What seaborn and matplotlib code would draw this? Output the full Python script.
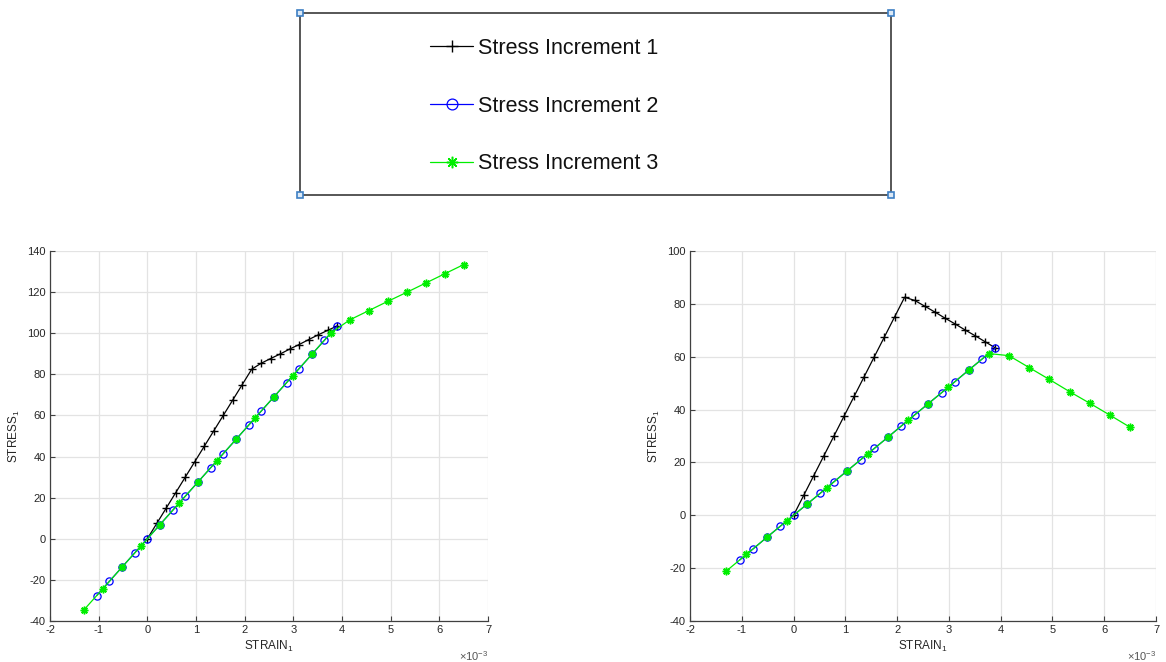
import numpy as np
import pandas as pd
import matplotlib
matplotlib.use('Agg')
import matplotlib.pyplot as plt
from matplotlib.ticker import FuncFormatter
import seaborn as sns

# ============================================================
# DATA (strain values in units of 1e-3)
# ============================================================

labels = ['Stress Increment 1', 'Stress Increment 2', 'Stress Increment 3']

# increment 1 (black, +)
strain_1 = [0.0, 0.195, 0.39, 0.585, 0.78, 0.975, 1.17, 1.365, 1.56, 1.755, 1.95,
            2.145, 2.34, 2.535, 2.73, 2.925, 3.12, 3.315, 3.51, 3.705, 3.9]
stress_1_left = [0.0, 7.5, 15.0, 22.5, 30.0, 37.5, 45.0, 52.5, 60.0, 67.5, 75.0,
                 82.5, 85.4, 87.7, 89.9, 92.3, 94.5, 96.9, 99.2, 101.4, 103.5]
stress_1_right = [0.0, 7.5, 15.0, 22.5, 30.0, 37.5, 45.0, 52.5, 60.0, 67.5, 75.0,
                  82.5, 81.3, 79.1, 76.9, 74.6, 72.4, 70.1, 67.9, 65.6, 63.3]

# increment 2 (blue, o)
strain_2 = [-1.04, -0.78, -0.52, -0.26, 0.0, 0.26, 0.52, 0.78, 1.04, 1.3,
            1.56, 1.82, 2.08, 2.34, 2.6, 2.86, 3.12, 3.38, 3.64, 3.9]
stress_2_left = [-27.6, -20.7, -13.8, -6.9, 0.0, 6.9, 13.8, 20.7, 27.6, 34.5,
                 41.4, 48.3, 55.2, 62.1, 69.0, 75.9, 82.8, 89.7, 96.6, 103.5]
stress_2_right = [-16.9, -12.7, -8.4, -4.2, 0.0, 4.2, 8.4, 12.7, 16.9, 21.1,
                  25.3, 29.5, 33.8, 38.0, 42.2, 46.4, 50.6, 54.9, 59.1, 63.3]

# increment 3 (green, *)
strain_3 = [-1.3, -0.91, -0.52, -0.13, 0.26, 0.65, 1.04, 1.43, 1.82, 2.21, 2.6,
            2.99, 3.38, 3.77, 4.16, 4.55, 4.94, 5.33, 5.72, 6.11, 6.5]
stress_3_left = [-34.5, -24.2, -13.8, -3.5, 6.9, 17.3, 27.6, 38.0, 48.3, 58.7, 69.0,
                 79.4, 89.7, 100.1, 106.5, 111.0, 115.5, 119.9, 124.4, 128.9, 133.4]
stress_3_right = [-21.1, -14.8, -8.4, -2.1, 4.2, 10.5, 16.9, 23.2, 29.5, 35.9, 42.2,
                  48.5, 54.9, 61.2, 60.4, 55.9, 51.4, 46.8, 42.4, 37.9, 33.3]

x_ticks = [-2, -1, 0, 1, 2, 3, 4, 5, 6, 7]
y_ticks_left = [-40, -20, 0, 20, 40, 60, 80, 100, 120, 140]
y_ticks_right = [-40, -20, 0, 20, 40, 60, 80, 100]

# ============================================================
# STYLE
# ============================================================

sns.set_theme(style='ticks')
plt.rcParams['font.family'] = ['Liberation Sans', 'DejaVu Sans']
plt.rcParams['mathtext.fontset'] = 'custom'
plt.rcParams['mathtext.rm'] = 'Liberation Sans'
plt.rcParams['mathtext.default'] = 'regular'
plt.rcParams['axes.unicode_minus'] = False

dark = '#262626'
series_style = [
    dict(color='#000000', marker='+', markersize=6, markeredgecolor='#000000',
         markerfacecolor='#000000', markeredgewidth=1.0),
    dict(color='#0000ff', marker='o', markersize=5.2, markeredgecolor='#0000ff',
         markerfacecolor='none', markeredgewidth=0.9),
    dict(color='#00ee00', marker=(8, 2, 0), markersize=5.5, markeredgecolor='#00ee00',
         markerfacecolor='#00ee00', markeredgewidth=1.1),
]

W, H = 1166, 662
fig = plt.figure(figsize=(W / 100, H / 100), dpi=100)


def px_rect(x0, y0, x1, y1):
    # pixel box (top-left origin) -> figure fraction rect
    return [x0 / W, 1 - y1 / H, (x1 - x0) / W, (y1 - y0) / H]


ax_l = fig.add_axes(px_rect(50, 251, 488, 621))
ax_r = fig.add_axes(px_rect(690, 251, 1156, 621))

panels = [
    (ax_l, [stress_1_left, stress_2_left, stress_3_left], y_ticks_left),
    (ax_r, [stress_1_right, stress_2_right, stress_3_right], y_ticks_right),
]
strains = [strain_1, strain_2, strain_3]

for ax, stresses, yt in panels:
    for k in range(3):
        df = pd.DataFrame({'strain': np.array(strains[k]) * 1e-3,
                           'stress': stresses[k]})
        sns.lineplot(data=df, x='strain', y='stress', ax=ax, sort=False,
                     estimator=None, linewidth=0.9, label=labels[k],
                     **series_style[k])
    if ax.get_legend() is not None:
        ax.get_legend().remove()

    ax.set_xlim(-2e-3, 7e-3)
    ax.set_xticks(np.array(x_ticks) * 1e-3)
    ax.set_ylim(yt[0], yt[-1])
    ax.set_yticks(yt)
    # tick labels in units of 1e-3, exponent written separately like matlab
    ax.xaxis.set_major_formatter(FuncFormatter(lambda v, p: f'{v * 1e3:g}'))
    ax.text(1.0, -0.108, r'$\times10^{-3}$', transform=ax.transAxes,
            ha='right', va='baseline', fontsize=8, color='#555555')

    ax.grid(True, color='#e3e3e3', linewidth=0.9)
    ax.set_axisbelow(True)
    for s in ['top', 'right']:
        ax.spines[s].set_visible(False)
    for s in ['left', 'bottom']:
        ax.spines[s].set_color('#404040')
        ax.spines[s].set_linewidth(0.9)
    ax.tick_params(direction='in', length=3.5, width=0.8, color='#404040',
                   labelsize=8, labelcolor=dark, pad=3)
    ax.set_xlabel('STRAIN$_1$', fontsize=8.5, color=dark, labelpad=3)
    ax.set_ylabel('STRESS$_1$', fontsize=8.5, color=dark, labelpad=4)

# ============================================================
# LEGEND BOX (separate, top centre)
# ============================================================

ax_leg = fig.add_axes(px_rect(300, 13, 891, 195))
ax_leg.set_xticks([])
ax_leg.set_yticks([])
ax_leg.set_facecolor('white')
for s in ax_leg.spines.values():
    s.set_color('#3a3a3a')
    s.set_linewidth(1.2)

# selection handles at the corners
x0, x1 = ax_leg.get_xlim()
y0, y1 = ax_leg.get_ylim()
ax_leg.plot([x0, x1, x0, x1], [y0, y0, y1, y1], linestyle='none', marker='s',
            markersize=5, markerfacecolor='#dce9f6', markeredgecolor='#3d7fc4',
            markeredgewidth=1.2, clip_on=False, zorder=5)
ax_leg.set_xlim(x0, x1)
ax_leg.set_ylim(y0, y1)

handles, _ = ax_l.get_legend_handles_labels()
leg = fig.legend(handles, labels, loc='center left',
                 bbox_to_anchor=(430 / W, 1 - 106 / H), frameon=False,
                 fontsize=15.5, handlelength=2.0, handletextpad=0.25,
                 labelspacing=1.7, borderpad=0, borderaxespad=0,
                 markerscale=1.5)
for t in leg.get_texts():
    t.set_color('#111111')

plt.savefig('out.png', dpi=100)
plt.close()
